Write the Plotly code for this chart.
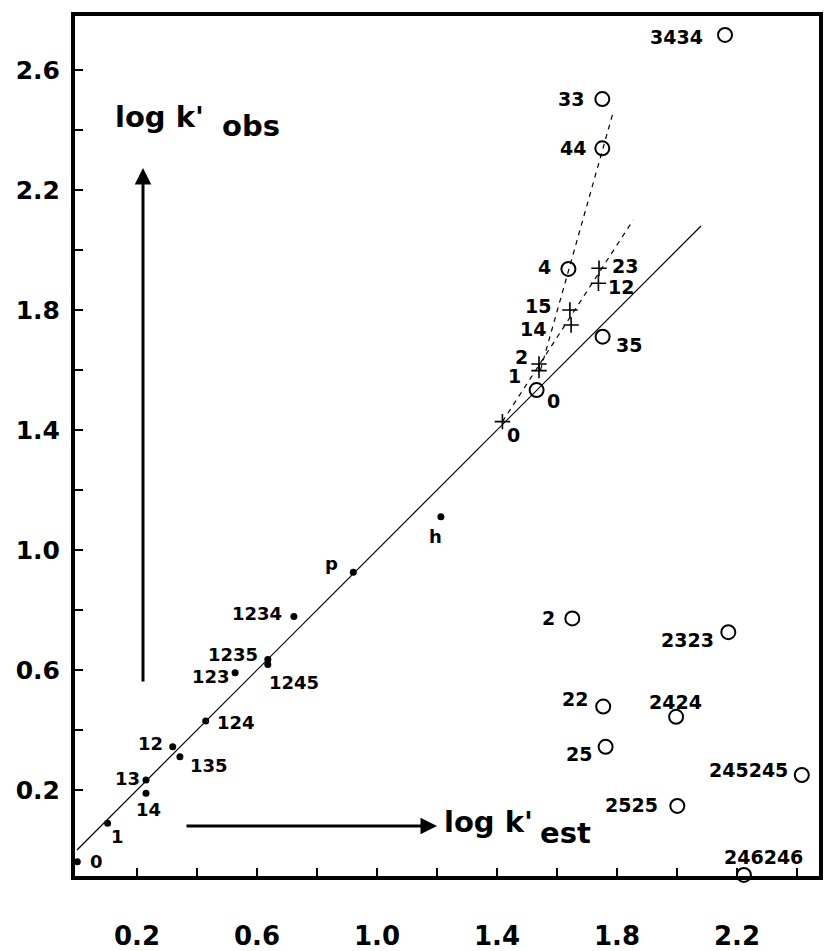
import plotly.graph_objects as go

# ---------------- data ----------------
# filled dots (log k'est, log k'obs)
dot_names = ["0", "1", "14", "13", "12", "135", "124", "123", "1235", "1245", "1234", "p", "h"]
dot_x = [0.001, 0.102, 0.230, 0.230, 0.319, 0.343, 0.429, 0.527, 0.636, 0.636, 0.723, 0.921, 1.213]
dot_y = [-0.039, 0.089, 0.189, 0.233, 0.344, 0.311, 0.430, 0.591, 0.635, 0.618, 0.778, 0.926, 1.111]

# open circles
circ_names = ["0", "35", "4", "44", "33", "3434", "2", "2323", "22", "2424", "25", "245245", "2525", "246246"]
circ_x = [1.532, 1.752, 1.638, 1.751, 1.751, 2.160, 1.651, 2.171, 1.754, 1.997, 1.762, 2.416, 2.001, 2.223]
circ_y = [1.533, 1.711, 1.937, 2.339, 2.503, 2.717, 0.772, 0.726, 0.478, 0.444, 0.344, 0.250, 0.147, -0.083]

# plus markers
plus_names = ["0", "1", "2", "14", "15", "12", "23"]
plus_x = [1.418, 1.540, 1.540, 1.647, 1.643, 1.738, 1.740]
plus_y = [1.428, 1.598, 1.620, 1.750, 1.800, 1.889, 1.939]

# lines
ident_x = [0.0, 2.08]
ident_y = [0.0, 2.08]
dashA_x = [1.418, 1.854]
dashA_y = [1.428, 2.100]
dashB_x = [1.545, 1.786]
dashB_y = [1.600, 2.455]

x_ticks = [0.2, 0.4, 0.6, 0.8, 1.0, 1.2, 1.4, 1.6, 1.8, 2.0, 2.2, 2.4]
x_ticktext = ["0.2", "", "0.6", "", "1.0", "", "1.4", "", "1.8", "", "2.2", ""]
y_ticks = [0.2, 0.4, 0.6, 0.8, 1.0, 1.2, 1.4, 1.6, 1.8, 2.0, 2.2, 2.4, 2.6]
y_ticktext = ["0.2", "", "0.6", "", "1.0", "", "1.4", "", "1.8", "", "2.2", "", "2.6"]

# ---------------- label placement (pixel offsets: xanchor, xshift, yshift) ----------------
dot_lab = {
    "0": ("left", 11, 0), "1": ("center", 10, -13), "14": ("center", 2, -16), "13": ("right", -4, 2),
    "12": ("right", -8, 3), "135": ("left", 8, -9), "124": ("left", 9, -2), "123": ("right", -3, -4),
    "1235": ("right", -8, 5), "1245": ("left", -1, -18), "1234": ("right", -10, 3),
    "p": ("center", -22, 9), "h": ("center", -5, -20),
}
circ_lab = {
    "0": ("left", 8, -11), "35": ("left", 11, -8), "4": ("right", -15, 2), "44": ("right", -14, 0),
    "33": ("right", -16, 0), "3434": ("right", -20, -2), "2": ("right", -15, 0), "2323": ("right", -12, -8),
    "22": ("right", -13, 8), "2424": ("center", -1, 15), "25": ("right", -12, -7),
    "245245": ("right", -12, 5), "2525": ("right", -17, 1), "246246": ("center", 20, 18),
}
plus_lab = {
    "0": ("left", 3, -13), "1": ("right", -16, -5), "2": ("right", -9, 7), "14": ("right", -23, -4),
    "15": ("right", -17, 4), "12": ("left", 8, -4), "23": ("left", 11, 2),
}

FONT = "DejaVu Sans"
fig = go.Figure()

fig.add_trace(go.Scatter(x=ident_x, y=ident_y, mode="lines",
                         line=dict(color="black", width=1.2), showlegend=False))
for lx, ly in ((dashA_x, dashA_y), (dashB_x, dashB_y)):
    fig.add_trace(go.Scatter(x=lx, y=ly, mode="lines",
                             line=dict(color="black", width=1.2, dash="5px,5px"), showlegend=False))

fig.add_trace(go.Scatter(x=dot_x, y=dot_y, mode="markers", cliponaxis=False,
                         marker=dict(color="black", size=7), showlegend=False))
fig.add_trace(go.Scatter(x=circ_x, y=circ_y, mode="markers", cliponaxis=False,
                         marker=dict(symbol="circle-open", color="black", size=14, line=dict(width=2)),
                         showlegend=False))
fig.add_trace(go.Scatter(x=plus_x, y=plus_y, mode="markers", cliponaxis=False,
                         marker=dict(symbol="cross-thin-open", color="black", size=11,
                                     line=dict(width=1.6, color="black")),
                         showlegend=False))

annotations = []
def add_labels(names, xs, ys, spec, size):
    for n, x, y in zip(names, xs, ys):
        anc, dx, dy = spec[n]
        annotations.append(dict(x=x, y=y, xref="x", yref="y", text=n, showarrow=False,
                                xanchor=anc, yanchor="middle", xshift=dx, yshift=dy,
                                font=dict(family=FONT, size=size, color="black", weight="bold")))

add_labels(dot_names, dot_x, dot_y, dot_lab, 18)
add_labels(circ_names, circ_x, circ_y, circ_lab, 19)
add_labels(plus_names, plus_x, plus_y, plus_lab, 19)

# axis arrows
annotations.append(dict(x=0.22, y=2.273, ax=0.22, ay=0.557, xref="x", yref="y", axref="x", ayref="y",
                        text="", showarrow=True, arrowhead=2, arrowwidth=3, arrowsize=1.1,
                        arrowcolor="black"))
annotations.append(dict(x=1.2, y=0.08, ax=0.36, ay=0.08, xref="x", yref="y", axref="x", ayref="y",
                        text="", showarrow=True, arrowhead=2, arrowwidth=3, arrowsize=1.1,
                        arrowcolor="black"))

# axis titles
tf = dict(family=FONT, size=29, color="black", weight="bold")
annotations.append(dict(x=0.12, y=2.443, xref="x", yref="y", text="log k'", showarrow=False,
                        xanchor="left", yanchor="middle", font=tf))
annotations.append(dict(x=0.477, y=2.412, xref="x", yref="y", text="obs", showarrow=False,
                        xanchor="left", yanchor="middle", font=tf))
annotations.append(dict(x=1.216, y=0.093, xref="x", yref="y", text="log k'", showarrow=False,
                        xanchor="left", yanchor="middle", font=tf))
annotations.append(dict(x=1.536, y=0.058, xref="x", yref="y", text="est", showarrow=False,
                        xanchor="left", yanchor="middle", font=tf))

fig.update_layout(
    width=826, height=951,
    margin=dict(l=75, r=7, t=16, b=75, autoexpand=False),
    paper_bgcolor="white", plot_bgcolor="white",
    annotations=annotations,
    xaxis=dict(range=[-0.00667, 2.4733], showgrid=False, zeroline=False, automargin=False,
               showline=True, linewidth=4, linecolor="black", mirror=True,
               ticks="inside", ticklen=8, tickwidth=2, tickcolor="black",
               tickvals=x_ticks, ticktext=x_ticktext, ticklabelstandoff=34,
               tickfont=dict(family=FONT, size=26, color="black", weight="bold")),
    yaxis=dict(range=[-0.0867, 2.78], showgrid=False, zeroline=False, automargin=False,
               showline=True, linewidth=4, linecolor="black", mirror=True,
               ticks="inside", ticklen=8, tickwidth=2, tickcolor="black",
               tickvals=y_ticks, ticktext=y_ticktext, ticklabelstandoff=6,
               tickfont=dict(family=FONT, size=25, color="black", weight="bold")),
)

fig.write_html("out.html")
